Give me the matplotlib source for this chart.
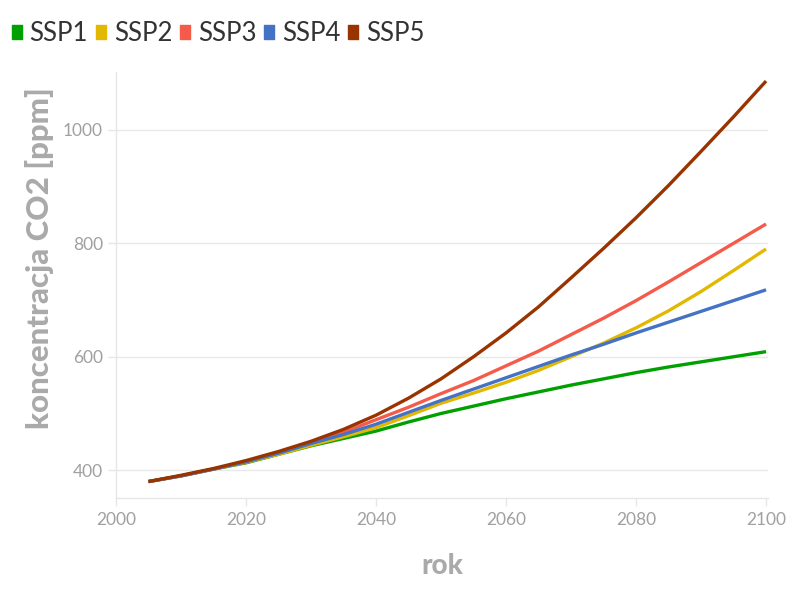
import matplotlib
matplotlib.use("Agg")
import matplotlib.pyplot as plt
from matplotlib.lines import Line2D

years = [2005, 2010, 2015, 2020, 2025, 2030, 2035, 2040, 2045, 2050,
         2055, 2060, 2065, 2070, 2075, 2080, 2085, 2090, 2095, 2100]
ssp1 = [380, 390, 402, 413, 428, 443, 456, 469, 485, 500,
        513, 526, 538, 550, 561, 572, 582, 591, 600, 609]
ssp2 = [380, 390, 402, 414, 428, 444, 459, 475, 496, 518,
        536, 555, 576, 600, 624, 651, 681, 715, 752, 790]
ssp3 = [380, 390, 402, 415, 431, 448, 467, 489, 511, 535,
        558, 584, 610, 639, 668, 699, 732, 766, 800, 834]
ssp4 = [380, 390, 402, 415, 430, 447, 463, 481, 502, 523,
        543, 563, 583, 603, 622, 642, 661, 680, 699, 718]
ssp5 = [380, 391, 403, 417, 433, 451, 472, 497, 527, 561,
        600, 642, 688, 739, 791, 845, 902, 962, 1023, 1086]

names = ["SSP1", "SSP2", "SSP3", "SSP4", "SSP5"]
series = [ssp1, ssp2, ssp3, ssp4, ssp5]
colors = ["#00a000", "#e3b800", "#f45b4b", "#4472c4", "#993300"]

xticks = [2000, 2020, 2040, 2060, 2080, 2100]
yticks = [400, 600, 800, 1000]

plt.rcParams['font.family'] = ['Lato', 'DejaVu Sans']

fig = plt.figure(figsize=(8, 6), dpi=100)
ax = fig.add_axes([0.145, 0.17, 0.815, 0.71])

for name, vals, c in zip(names, series, colors):
    ax.plot(years, vals, color=c, lw=2.4, solid_capstyle='butt',
            solid_joinstyle='round', label=name)

ax.set_xlim(2000, 2100.3)
ax.set_ylim(351, 1102)
ax.set_xticks(xticks)
ax.set_yticks(yticks)
ax.grid(axis='y', color='#e8e8e8', lw=1)
ax.set_axisbelow(True)
for s in ['top', 'right']:
    ax.spines[s].set_visible(False)
for s in ['left', 'bottom']:
    ax.spines[s].set_color('#e6e6e6')
    ax.spines[s].set_linewidth(1)
ax.tick_params(axis='both', colors='#e6e6e6', labelcolor='#a0a0a0',
               labelsize=12.5, length=6, width=1)
ax.tick_params(axis='x', pad=4)

ax.set_xlabel("rok", fontsize=20, fontweight='black', color='#aaaaaa')
ax.xaxis.set_label_coords(0.5, -0.128)
ax.set_ylabel("koncentracja CO2 [ppm]", fontsize=22.5, fontweight='black',
              color='#aaaaaa')
ax.yaxis.set_label_coords(-0.095, 0.563)

marker = [(-0.35, -0.5), (0.35, -0.5), (0.35, 0.5), (-0.35, 0.5), (-0.35, -0.5)]
handles = [Line2D([], [], ls='none', marker=marker, markersize=10,
                  markerfacecolor=c, markeredgecolor=c) for c in colors]
fig.legend(handles, names, loc='upper left', bbox_to_anchor=(-0.008, 0.995),
           ncol=5, frameon=False, fontsize=18.5, handlelength=0.4,
           handletextpad=0.3, columnspacing=0.3, borderaxespad=0.3,
           labelcolor='#333333')

fig.savefig("out.png", dpi=100, facecolor='white')
